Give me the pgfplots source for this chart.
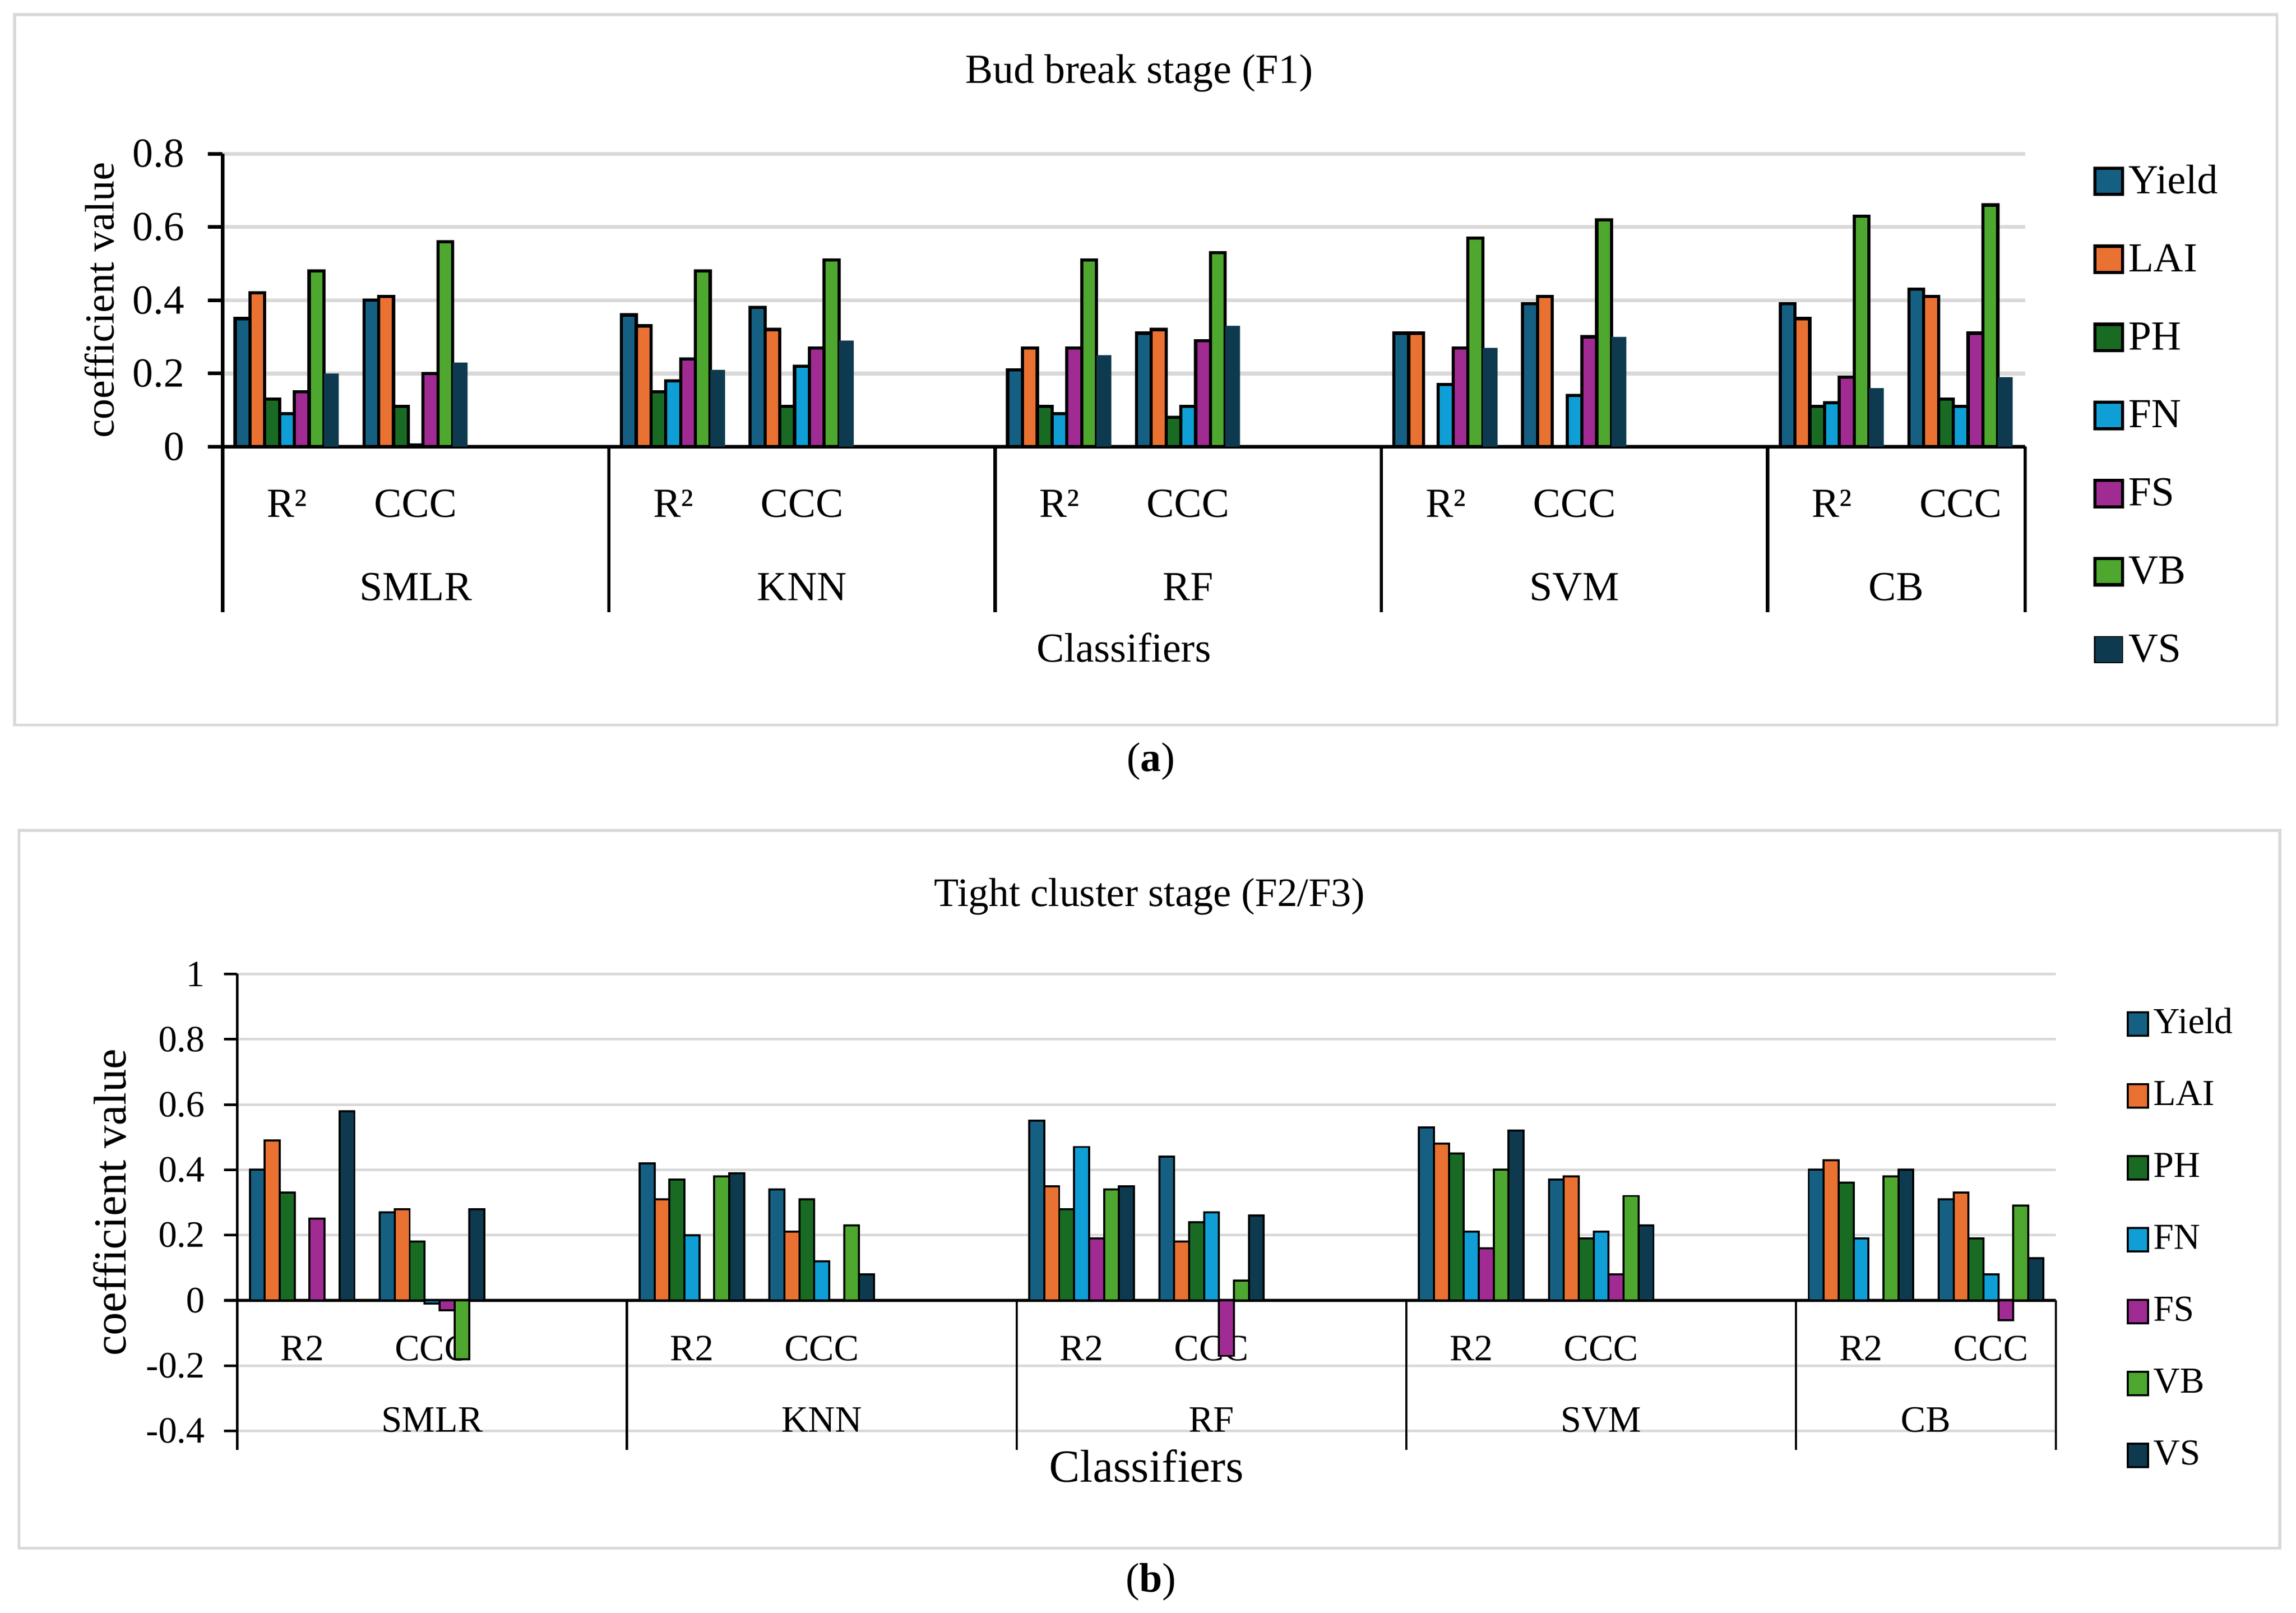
\documentclass[border=0pt]{standalone}
\usepackage{fontspec}
\setmainfont{Liberation Serif}
\usepackage{pgfplots}
\usepackage{pgfplotstable}
\pgfplotsset{compat=1.18}

\definecolor{cYield}{HTML}{156082}
\definecolor{cLAI}{HTML}{E97132}
\definecolor{cPH}{HTML}{196B24}
\definecolor{cFN}{HTML}{0F9ED5}
\definecolor{cFS}{HTML}{A02B93}
\definecolor{cVB}{HTML}{4EA72E}
\definecolor{cVS}{HTML}{0E3A4F}
\definecolor{gridgray}{HTML}{D9D9D9}

\newcommand\fa{\fontsize{14.1}{16}\selectfont}
\newcommand\ft{\fontsize{13.8}{16}\selectfont}
\newcommand\fb{\fontsize{12.7}{14}\selectfont}
\newcommand\fl{\fontsize{12.5}{14}\selectfont}
\newcommand\fc{\fontsize{15.7}{17}\selectfont}

% bud break stage (F1); slots 2,5,8,11 are the gaps between classifiers
\pgfplotstableread{
x  Yield LAI  PH   FN    FS   VB   VS
0  0.35  0.42 0.13 0.09  0.15 0.48 0.20
1  0.40  0.41 0.11 0.005 0.20 0.56 0.23
3  0.36  0.33 0.15 0.18  0.24 0.48 0.21
4  0.38  0.32 0.11 0.22  0.27 0.51 0.29
6  0.21  0.27 0.11 0.09  0.27 0.51 0.25
7  0.31  0.32 0.08 0.11  0.29 0.53 0.33
9  0.31  0.31 nan  0.17  0.27 0.57 0.27
10 0.39  0.41 nan  0.14  0.30 0.62 0.30
12 0.39  0.35 0.11 0.12  0.19 0.63 0.16
13 0.43  0.41 0.13 0.11  0.31 0.66 0.19
}\budtable

% tight cluster stage (F2/F3)
\pgfplotstableread{
x  Yield LAI  PH   FN    FS    VB    VS
0  0.40  0.49 0.33 nan   0.25  nan   0.58
1  0.27  0.28 0.18 -0.01 -0.03 -0.18 0.28
3  0.42  0.31 0.37 0.20  nan   0.38  0.39
4  0.34  0.21 0.31 0.12  nan   0.23  0.08
6  0.55  0.35 0.28 0.47  0.19  0.34  0.35
7  0.44  0.18 0.24 0.27  -0.17 0.06  0.26
9  0.53  0.48 0.45 0.21  0.16  0.40  0.52
10 0.37  0.38 0.19 0.21  0.08  0.32  0.23
12 0.40  0.43 0.36 0.19  nan   0.38  0.40
13 0.31  0.33 0.19 0.08  -0.06 0.29  0.13
}\tighttable

\begin{document}
\begin{tikzpicture}
\path[use as bounding box] (0,0) rectangle (784pt,-550.5pt);
\draw[gridgray, line width=1pt] (5pt,-5pt) rectangle (777.5pt,-247.5pt);
\draw[gridgray, line width=1pt] (6.5pt,-283.5pt) rectangle (778.5pt,-528.5pt);
\node[font=\fa] at (389pt,-25pt) {Bud break stage (F1)};
\node[font=\fa] at (393pt,-260pt) {(\textbf{a})};
\node[font=\ft] at (392.5pt,-306pt) {Tight cluster stage (F2/F3)};
\node[font=\fa] at (393pt,-540pt) {(\textbf{b})};

% ---- panel (a)
\begin{axis}[
  at={(76pt,-152.5pt)}, anchor=south west,
  scale only axis, width=615.5pt, height=100pt,
  clip=false,
  xmin=-0.5, xmax=13.5, ymin=0, ymax=0.8,
  ybar=0pt, bar width=0.115,
  axis x line=bottom, axis y line=left,
  axis line style={-, line width=1.2pt, black},
  xtick={0,1,3,4,6,7,9,10,12,13},
  xticklabels={R²,CCC,R²,CCC,R²,CCC,R²,CCC,R²,CCC},
  xtick style={draw=none},
  xticklabel style={anchor=base, yshift=-19pt, font=\fa},
  ytick={0,0.2,0.4,0.6,0.8},
  ytick style={black, line width=1.2pt},
  tick align=outside, major tick length=5pt,
  yticklabel style={font=\fa, xshift=-4.5pt},
  /pgf/number format/assume math mode=true,
  ymajorgrids, grid style={gridgray, line width=1.3pt},
  hide obscured x ticks=false, hide obscured y ticks=false,
  xlabel={Classifiers},
  xlabel style={font=\fa, at={(axis description cs:0.5,0)}, anchor=base, yshift=-73.5pt},
  ylabel={coefficient value},
  ylabel style={font=\fa, at={(axis description cs:-0.0682,0.5)}, anchor=center},
  legend style={at={(1.0374,0.9935)}, anchor=north west, draw=none, fill=none,
    inner sep=0pt, font=\fa, row sep=10.95pt, nodes={inner sep=1.5pt}},
  legend cell align=left,
  legend image code/.code={\draw[#1] (0pt,-5.2pt) rectangle (9.5pt,3.8pt);},
]
\addplot[fill=cYield, draw=black, line width=1.1pt] table[x=x, y=Yield] {\budtable};
\addplot[fill=cLAI, draw=black, line width=1.1pt] table[x=x, y=LAI] {\budtable};
\addplot[fill=cPH, draw=black, line width=1.1pt] table[x=x, y=PH] {\budtable};
\addplot[fill=cFN, draw=black, line width=1.1pt] table[x=x, y=FN] {\budtable};
\addplot[fill=cFS, draw=black, line width=1.1pt] table[x=x, y=FS] {\budtable};
\addplot[fill=cVB, draw=black, line width=1.1pt] table[x=x, y=VB] {\budtable};
\addplot[fill=cVS, draw=none] table[x=x, y=VS] {\budtable};
\legend{\strut Yield,\strut LAI,\strut PH,\strut FN,\strut FS,\strut VB,\strut VS}
\draw[line width=1.2pt] (axis cs:-0.5,0) -- ++(0pt,-56.5pt);
\draw[line width=1.2pt] (axis cs:2.5,0) -- ++(0pt,-56.5pt);
\draw[line width=1.2pt] (axis cs:5.5,0) -- ++(0pt,-56.5pt);
\draw[line width=1.2pt] (axis cs:8.5,0) -- ++(0pt,-56.5pt);
\draw[line width=1.2pt] (axis cs:11.5,0) -- ++(0pt,-56.5pt);
\draw[line width=1.2pt] (axis cs:13.5,0) -- ++(0pt,-56.5pt);
\node[font=\fa, anchor=base, yshift=-52.5pt] at (axis cs:1,0) {SMLR};
\node[font=\fa, anchor=base, yshift=-52.5pt] at (axis cs:4,0) {KNN};
\node[font=\fa, anchor=base, yshift=-52.5pt] at (axis cs:7,0) {RF};
\node[font=\fa, anchor=base, yshift=-52.5pt] at (axis cs:10,0) {SVM};
\node[font=\fa, anchor=base, yshift=-52.5pt] at (axis cs:12.5,0) {CB};
\end{axis}

% ---- panel (b)
\begin{axis}[
  at={(81pt,-488.5pt)}, anchor=south west,
  scale only axis, width=621pt, height=156pt,
  clip=false,
  xmin=-0.5, xmax=13.5, ymin=-0.4, ymax=1,
  ybar=0pt, bar width=0.115,
  axis x line=middle, axis y line=left,
  axis line style={-, line width=0.9pt, black},
  every inner x axis line/.append style={-},
  xtick={0,1,3,4,6,7,9,10,12,13},
  xticklabels={R2,CCC,R2,CCC,R2,CCC,R2,CCC,R2,CCC},
  xtick style={draw=none},
  xticklabel style={anchor=base, yshift=-16pt, font=\fb},
  ytick={-0.4,-0.2,0,0.2,0.4,0.6,0.8,1},
  ytick style={black, line width=0.9pt},
  tick align=outside, major tick length=4.5pt,
  yticklabel style={font=\fb, xshift=-3pt},
  /pgf/number format/assume math mode=true,
  ymajorgrids, grid style={gridgray, line width=0.9pt},
  hide obscured x ticks=false, hide obscured y ticks=false,
  xlabel={Classifiers},
  xlabel style={font=\fc, at={(axis description cs:0.5,0)}, anchor=base, yshift=-17.5pt},
  ylabel={coefficient value},
  ylabel style={font=\fc, at={(axis description cs:-0.070,0.5)}, anchor=center},
  legend style={at={(1.0386,0.944)}, anchor=north west, draw=none, fill=none,
    inner sep=0pt, font=\fl, row sep=10.25pt, nodes={inner sep=1.5pt}},
  legend cell align=left,
  legend image code/.code={\draw[#1] (0pt,-5pt) rectangle (7pt,3pt);},
]
\addplot[fill=cYield, draw=black, line width=0.7pt] table[x=x, y=Yield] {\tighttable};
\addplot[fill=cLAI, draw=black, line width=0.7pt] table[x=x, y=LAI] {\tighttable};
\addplot[fill=cPH, draw=black, line width=0.7pt] table[x=x, y=PH] {\tighttable};
\addplot[fill=cFN, draw=black, line width=0.7pt] table[x=x, y=FN] {\tighttable};
\addplot[fill=cFS, draw=black, line width=0.7pt] table[x=x, y=FS] {\tighttable};
\addplot[fill=cVB, draw=black, line width=0.7pt] table[x=x, y=VB] {\tighttable};
\addplot[fill=cVS, draw=black, line width=0.7pt] table[x=x, y=VS] {\tighttable};
\legend{\strut Yield,\strut LAI,\strut PH,\strut FN,\strut FS,\strut VB,\strut VS}
\draw[line width=0.8pt] (axis cs:-0.5,0) -- ++(0pt,-51pt);
\draw[line width=0.8pt] (axis cs:2.5,0) -- ++(0pt,-51pt);
\draw[line width=0.8pt] (axis cs:5.5,0) -- ++(0pt,-51pt);
\draw[line width=0.8pt] (axis cs:8.5,0) -- ++(0pt,-51pt);
\draw[line width=0.8pt] (axis cs:11.5,0) -- ++(0pt,-51pt);
\draw[line width=0.8pt] (axis cs:13.5,0) -- ++(0pt,-51pt);
\node[font=\fb, anchor=base, yshift=-45pt] at (axis cs:1,0) {SMLR};
\node[font=\fb, anchor=base, yshift=-45pt] at (axis cs:4,0) {KNN};
\node[font=\fb, anchor=base, yshift=-45pt] at (axis cs:7,0) {RF};
\node[font=\fb, anchor=base, yshift=-45pt] at (axis cs:10,0) {SVM};
\node[font=\fb, anchor=base, yshift=-45pt] at (axis cs:12.5,0) {CB};
\end{axis}
\end{tikzpicture}
\end{document}
